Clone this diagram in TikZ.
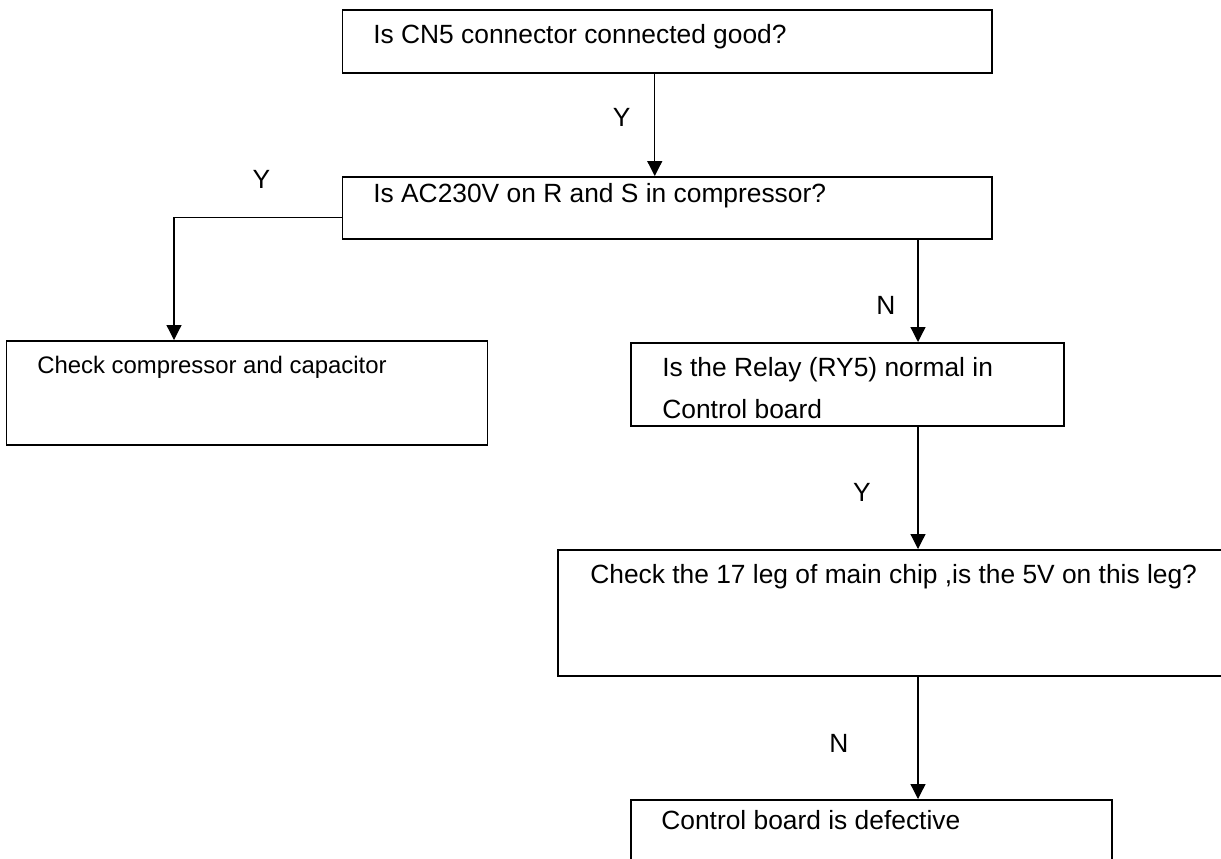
\documentclass[tikz,border=0pt]{standalone}
\usepackage{fontspec}
\setmainfont{Liberation Sans}
\usetikzlibrary{arrows.meta}
\tikzset{
  box/.style={draw, line width=0.85pt, rectangle, inner sep=0pt, anchor=north west},
  txt/.style={inner sep=0pt, anchor=base west, font=\fontsize{15}{18}\selectfont},
  lbl/.style={inner sep=0pt, font=\fontsize{15}{18}\selectfont},
  arr/.style={line width=0.7pt, -{Triangle[length=0.3cm,width=0.3cm]}}
}
\begin{document}
\begin{tikzpicture}
  \useasboundingbox (0,0) rectangle (24.42,-17.16);
  \clip (0,0) rectangle (24.42,-17.16);
  %boxes
  \node[box, minimum width=12.98cm, minimum height=1.26cm] (q1) at (6.84,-0.18) {};
  \node[box, minimum width=12.98cm, minimum height=1.24cm] (q2) at (6.84,-3.52) {};
  \node[box, minimum width=9.62cm, minimum height=2.08cm] (q3) at (0.12,-6.80) {};
  \node[box, minimum width=8.66cm, minimum height=1.66cm] (q4) at (12.60,-6.84) {};
  \node[box, minimum width=13.56cm, minimum height=2.52cm] (q5) at (11.14,-10.98) {};
  \node[box, minimum width=9.62cm, minimum height=1.42cm] (q6) at (12.60,-15.98) {};
  %texts
  \node[txt] (t1) at ([shift={(0.62,-0.68)}]q1.north west) {Is CN5 connector connected good?};
  \node[txt] (t2) at ([shift={(0.62,-0.52)}]q2.north west) {Is AC230V on R and S in compressor?};
  \node[txt, font=\fontsize{13.6}{16}\selectfont] (t3) at ([shift={(0.62,-0.66)}]q3.north west) {Check compressor and capacitor};
  \node[txt] (t4) at ([shift={(0.64,-0.68)}]q4.north west) {Is the Relay (RY5) normal in};
  \node[txt] (t4b) at ([shift={(0.64,-1.52)}]q4.north west) {Control board};
  \node[txt] (t5) at ([shift={(0.66,-0.68)}]q5.north west) {Check the 17 leg of main chip ,is the 5V on this leg?};
  \node[txt] (t6) at ([shift={(0.62,-0.60)}]q6.north west) {Control board is defective};
  %arrows
  \coordinate (rcol) at (18.36,0);
  \coordinate (lcol) at (3.48,0);
  \draw[arr] ([xshift=-0.25cm]q1.south) -- ([xshift=-0.25cm]q2.north) node[lbl, pos=0.43, xshift=-0.66cm] (y1) {Y};
  \draw[arr] ([yshift=-0.2cm]q2.west) -| (lcol |- q3.north) node[lbl, pos=0.24, yshift=0.76cm] (y2) {Y};
  \draw[arr] (q2.south -| rcol) -- (q4.north -| rcol) node[lbl, pos=0.64, xshift=-0.64cm] (n1) {N};
  \draw[arr] (q4.south -| rcol) -- (q5.north -| rcol) node[lbl, pos=0.54, xshift=-1.12cm] (y3) {Y};
  \draw[arr] (q5.south -| rcol) -- (q6.north -| rcol) node[lbl, pos=0.55, xshift=-1.58cm] (n2) {N};
\end{tikzpicture}
\end{document}
